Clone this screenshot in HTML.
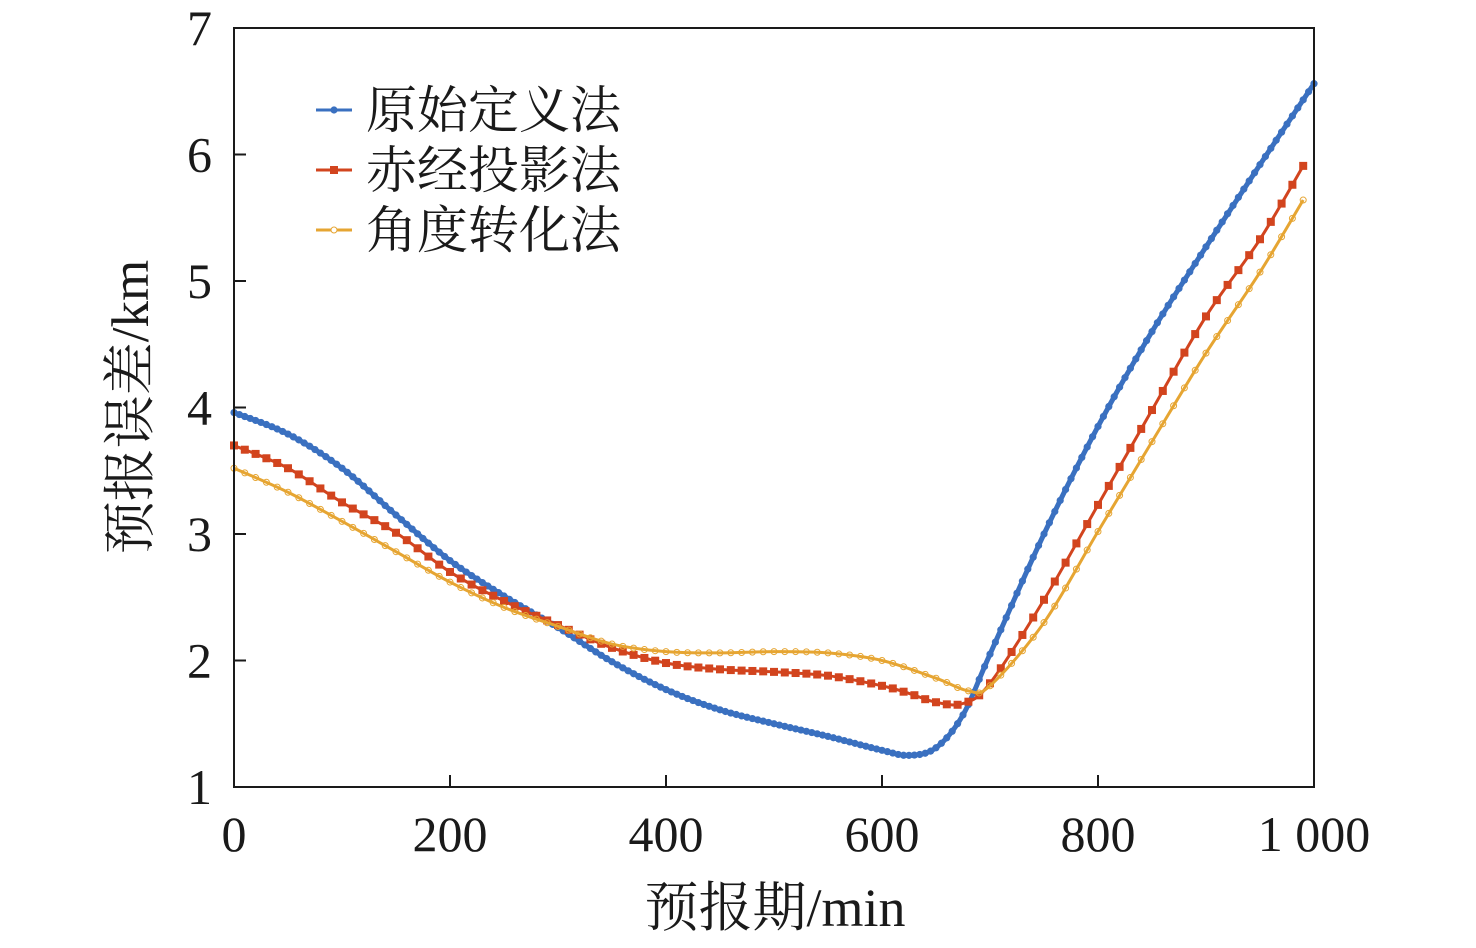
<!DOCTYPE html>
<html><head><meta charset="utf-8"><style>
html,body{margin:0;padding:0;background:#fff;}
svg text{font-family:"Liberation Serif","Noto Serif CJK SC",serif;fill:#1a1a1a;}
</style></head><body>
<svg id="chart" width="1476" height="943" viewBox="0 0 1476 943" xmlns="http://www.w3.org/2000/svg">
<g id="plot"></g>
</svg>
<script>
const xTicks=[0,200,400,600,800,1000];
const xTickLabels=["0","200","400","600","800","1 000"];
const yTicks=[1,2,3,4,5,6,7];
const yTickLabels=["1","2","3","4","5","6","7"];
const seriesNames=["原始定义法","赤经投影法","角度转化法"];
const blueX=[0,50,100,150,200,250,300,350,400,450,500,550,600,625,650,675,700,750,800,850,900,950,1000];
const blueY=[3.96,3.79,3.52,3.15,2.79,2.51,2.26,1.99,1.77,1.61,1.50,1.40,1.29,1.25,1.31,1.57,2.05,3.00,3.85,4.60,5.27,5.92,6.56];
const redX=[0,50,100,150,200,250,300,350,400,450,500,550,600,625,650,675,700,750,800,850,900,950,990];
const redY=[3.70,3.52,3.25,3.01,2.70,2.47,2.28,2.10,1.98,1.93,1.91,1.88,1.80,1.74,1.67,1.66,1.82,2.48,3.23,3.98,4.72,5.33,5.91];
const yelX=[0,50,100,150,200,250,300,350,400,450,500,550,600,650,680,700,750,800,850,900,950,990];
const yelY=[3.52,3.33,3.10,2.86,2.62,2.42,2.27,2.13,2.07,2.06,2.07,2.06,2.00,1.86,1.76,1.80,2.30,3.02,3.73,4.43,5.07,5.64];

const X0=234,X1=1314,Y0=787,Y1=28;
const sx=v=>X0+(v-0)/(1000-0)*(X1-X0);
const sy=v=>Y0-(v-1)/(7-1)*(Y0-Y1);
const NS="http://www.w3.org/2000/svg";
const svg=document.getElementById('chart');
function mk(tag,attrs,parent){const e=document.createElementNS(NS,tag);for(const k in attrs)e.setAttribute(k,attrs[k]);(parent||svg).appendChild(e);return e;}

function pathD(xs,ys){
  const p=xs.map((x,i)=>[sx(x),sy(ys[i])]);
  let d=`M${p[0][0]},${p[0][1]}`;
  for(let i=0;i<p.length-1;i++){
    const a=p[i-1]||p[i],b=p[i],c=p[i+1],e=p[i+2]||c;
    const c1=[b[0]+(c[0]-a[0])/6,b[1]+(c[1]-a[1])/6],c2=[c[0]-(e[0]-b[0])/6,c[1]-(e[1]-b[1])/6];
    d+=`C${c1[0]},${c1[1]} ${c2[0]},${c2[1]} ${c[0]},${c[1]}`;
  }
  return d;
}
const cfg=[
 {xs:blueX,ys:blueY,color:"#3a70c0",name:"series-original",marker:"dot",step:5,w:5},
 {xs:redX,ys:redY,color:"#d2441e",name:"series-ra-projection",marker:"square",step:10,w:3},
 {xs:yelX,ys:yelY,color:"#e6a532",name:"series-angle-conversion",marker:"circle",step:10,w:3}
];
cfg.forEach(s=>{
  const g=mk('g',{});
  
  
  const path=mk('path',{d:pathD(s.xs,s.ys),fill:'none',stroke:s.color,'stroke-width':s.w},g);
  
  
  const xmax=s.xs[s.xs.length-1];
  const L=path.getTotalLength();
  let targets=[];for(let t=0;t<=xmax+0.01;t+=s.step)targets.push(sx(t));
  let lo=0;
  targets.forEach(tx=>{
    let a=lo,b=L;
    for(let k=0;k<30;k++){const m=(a+b)/2;if(path.getPointAtLength(m).x<tx)a=m;else b=m;}
    lo=a;const pt=path.getPointAtLength(b);
    let m;
    if(s.marker==="dot")m=mk('circle',{cx:pt.x,cy:pt.y,r:3.6,fill:s.color},g);
    else if(s.marker==="square")m=mk('rect',{x:pt.x-4,y:pt.y-4,width:8,height:8,fill:s.color},g);
    else m=mk('circle',{cx:pt.x,cy:pt.y,r:3,fill:'none',stroke:s.color,'stroke-width':1},g);
    
    
  });
});

const frame=mk('rect',{x:X0,y:Y1,width:X1-X0,height:Y0-Y1,fill:'none',stroke:'#1a1a1a','stroke-width':2});


xTicks.forEach((v,i)=>{
  const t=mk('line',{x1:sx(v),x2:sx(v),y1:Y0,y2:Y0-12,stroke:'#1a1a1a','stroke-width':2});
  
  
  const l=mk('text',{x:sx(v),y:851,'font-size':50,'text-anchor':'middle'});
  l.textContent=xTickLabels[i];
  
  
});
yTicks.forEach((v,i)=>{
  const t=mk('line',{x1:X0,x2:X0+12,y1:sy(v),y2:sy(v),stroke:'#1a1a1a','stroke-width':2});
  
  
  const l=mk('text',{x:212,y:sy(v)+17,'font-size':50,'text-anchor':'end'});
  l.textContent=yTickLabels[i];
  
  
});
const xt=mk('text',{x:775,y:926,'font-size':54,'text-anchor':'middle'});
xt.textContent="预报期/min";


const yt=mk('text',{x:0,y:0,'font-size':53,'text-anchor':'middle',transform:'translate(148,407) rotate(-90)'});
yt.textContent="预报误差/km";



const legYs=[110,170,230];
cfg.forEach((s,i)=>{
  const g=mk('g',{});
  
  
  mk('line',{x1:316,x2:352,y1:legYs[i],y2:legYs[i],stroke:s.color,'stroke-width':3},g);
  if(s.marker==="dot")mk('circle',{cx:334,cy:legYs[i],r:3.6,fill:s.color},g);
  else if(s.marker==="square")mk('rect',{x:330,y:legYs[i]-4,width:8,height:8,fill:s.color},g);
  else mk('circle',{cx:334,cy:legYs[i],r:3,fill:'#fff',stroke:s.color,'stroke-width':1},g);
  const t=mk('text',{x:366,y:legYs[i]+18,'font-size':51},g);
  t.textContent=seriesNames[i];
});
</script>
</body></html>
